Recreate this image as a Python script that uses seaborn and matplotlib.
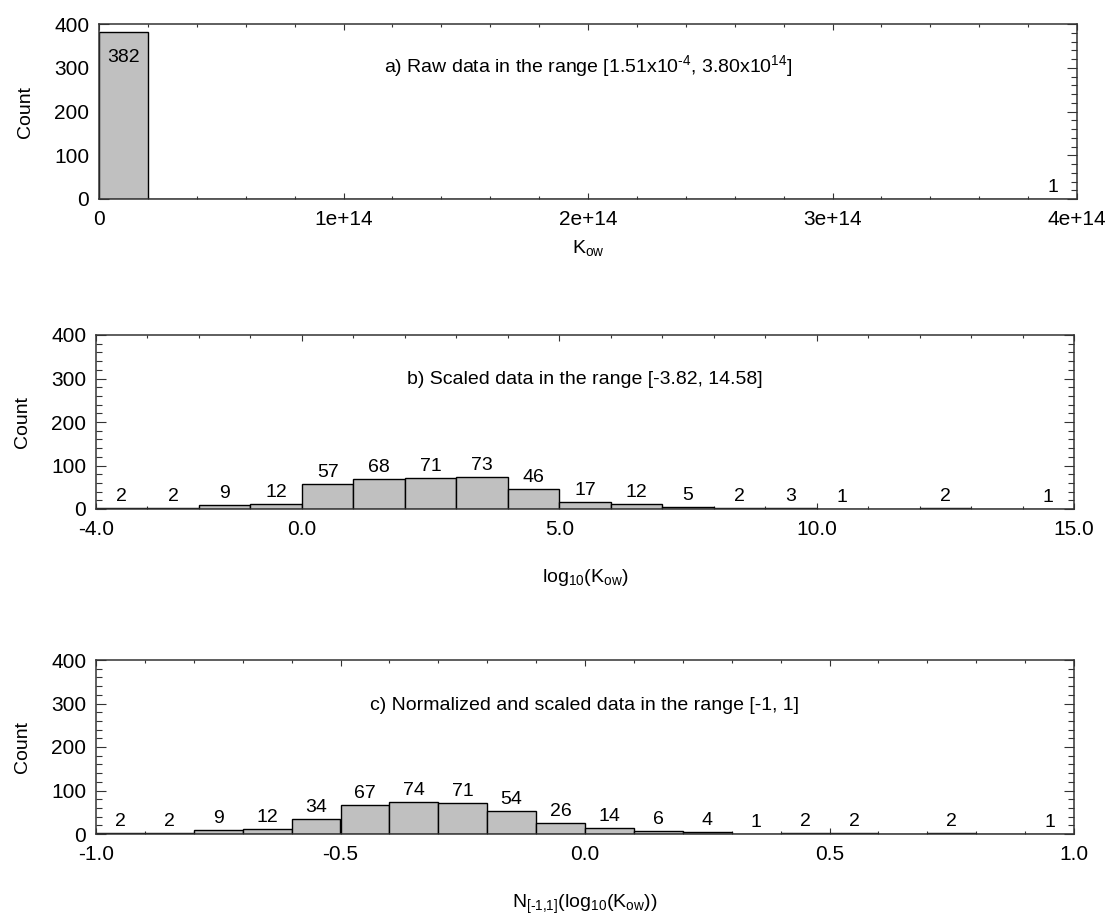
import numpy as np
import pandas as pd
import matplotlib
matplotlib.use("Agg")
import matplotlib.pyplot as plt
import seaborn as sns
from matplotlib.ticker import FixedLocator, FixedFormatter, MultipleLocator

# ---- histogram data (non-empty bins only: left edge of bin and its count) ----
raw_bin_left = [0.0, 3.8e14]
raw_counts = [382, 1]
raw_bin_width = 2e13

log_bin_left = [-4, -3, -2, -1, 0, 1, 2, 3, 4, 5, 6, 7, 8, 9, 10, 12, 14]
log_counts = [2, 2, 9, 12, 57, 68, 71, 73, 46, 17, 12, 5, 2, 3, 1, 2, 1]
log_bin_width = 1.0

norm_bin_left = [-1.0, -0.9, -0.8, -0.7, -0.6, -0.5, -0.4, -0.3, -0.2, -0.1,
                 0.0, 0.1, 0.2, 0.3, 0.4, 0.5, 0.7, 0.9]
norm_counts = [2, 2, 9, 12, 34, 67, 74, 71, 54, 26, 14, 6, 4, 1, 2, 2, 2, 1]
norm_bin_width = 0.1

# ---- axis ticks and labels ----
raw_xticks = [0, 1e14, 2e14, 3e14, 4e14]
raw_xticklabels = ["0", "1e+14", "2e+14", "3e+14", "4e+14"]
log_xticks = [-4, 0, 5, 10, 15]
log_xticklabels = ["-4.0", "0.0", "5.0", "10.0", "15.0"]
norm_xticks = [-1.0, -0.5, 0.0, 0.5, 1.0]
norm_xticklabels = ["-1.0", "-0.5", "0.0", "0.5", "1.0"]
count_ticks = [0, 100, 200, 300, 400]

titles = [
    r"a) Raw data in the range [1.51x10$^{\text{-4}}$, 3.80x10$^{\text{14}}$]",
    "b) Scaled data in the range [-3.82, 14.58]",
    "c) Normalized and scaled data in the range [-1, 1]",
]
xlabels = [
    r"K$_{\text{ow}}$",
    r"log$_{\text{10}}$(K$_{\text{ow}}$)",
    r"N$_{\text{[-1,1]}}$(log$_{\text{10}}$(K$_{\text{ow}}$))",
]

sns.set_theme(style="ticks")
plt.rcParams["font.family"] = ["Liberation Sans", "DejaVu Sans"]
plt.rcParams["mathtext.fontset"] = "custom"
plt.rcParams["mathtext.rm"] = "Liberation Sans"
plt.rcParams["mathtext.it"] = "Liberation Sans:italic"
plt.rcParams["mathtext.bf"] = "Liberation Sans:bold"
plt.rcParams["axes.unicode_minus"] = False

FS_TICK = 15
FS_BAR = 14
FS_TITLE = 14
FS_AXLAB = 14
EDGE = "#333333"

fig = plt.figure(figsize=(11.09, 9.16), dpi=100)
W, H = 1109, 916


def rect(left, right, top, bottom):
    return [left / W, 1 - bottom / H, (right - left) / W, (bottom - top) / H]


panels = [
    dict(rect=rect(99, 1077, 24, 199), left=raw_bin_left, counts=raw_counts,
         width=raw_bin_width, lo=0.0, hi=4e14, nb=20,
         ticks=raw_xticks, ticklabels=raw_xticklabels, minor=2e13,
         title_y=0.727, xlab_y=-0.225),
    dict(rect=rect(96, 1074, 335, 509), left=log_bin_left, counts=log_counts,
         width=log_bin_width, lo=-4.0, hi=15.0, nb=19,
         ticks=log_xticks, ticklabels=log_xticklabels, minor=1.0,
         title_y=0.72, xlab_y=-0.335),
    dict(rect=rect(96, 1074, 660, 834), left=norm_bin_left, counts=norm_counts,
         width=norm_bin_width, lo=-1.0, hi=1.0, nb=20,
         ticks=norm_xticks, ticklabels=norm_xticklabels, minor=0.1,
         title_y=0.71, xlab_y=-0.34),
]

for p, title, xlabel in zip(panels, titles, xlabels):
    ax = fig.add_axes(p["rect"])
    centers = np.asarray(p["left"], dtype=float) + p["width"] / 2
    df = pd.DataFrame({"value": centers, "count": p["counts"]})
    edges = np.linspace(p["lo"], p["hi"], p["nb"] + 1).tolist()
    sns.histplot(data=df, x="value", weights="count", bins=edges, stat="count",
                 color="#c0c0c0", edgecolor="black", linewidth=1.0, alpha=1.0,
                 ax=ax)

    ax.set_xlim(p["lo"], p["hi"])
    ax.set_ylim(0, 400)

    # count labels on each non-empty bar
    for c, n in zip(centers, p["counts"]):
        if n > 0.9 * 400:
            ax.annotate(str(n), (c, n), xytext=(0, -22), textcoords="offset points",
                        ha="center", va="baseline", fontsize=FS_BAR, color="black")
        else:
            ax.annotate(str(n), (c, n), xytext=(0, 5), textcoords="offset points",
                        ha="center", va="baseline", fontsize=FS_BAR, color="black")

    ax.text(0.5, p["title_y"], title, transform=ax.transAxes, ha="center",
            va="baseline", fontsize=FS_TITLE, color="black")

    ax.xaxis.set_major_locator(FixedLocator(p["ticks"]))
    ax.xaxis.set_major_formatter(FixedFormatter(p["ticklabels"]))
    ax.xaxis.set_minor_locator(MultipleLocator(p["minor"]))
    ax.yaxis.set_major_locator(FixedLocator(count_ticks))
    ax.yaxis.set_minor_locator(MultipleLocator(20))

    ax.tick_params(axis="both", which="both", direction="in", top=True, right=True,
                   colors=EDGE, labelcolor="black", labelsize=FS_TICK, width=0.8)
    ax.tick_params(axis="x", which="major", length=4.2, pad=8)
    ax.tick_params(axis="x", which="minor", length=2.5)
    ax.tick_params(axis="y", which="major", length=7.2, pad=7)
    ax.tick_params(axis="y", which="minor", length=4.6)

    for s in ax.spines.values():
        s.set_color(EDGE)
        s.set_linewidth(1.1)

    ax.set_ylabel("Count", fontsize=FS_AXLAB, color="black")
    ax.yaxis.set_label_coords(-0.066, 0.5)
    ax.set_xlabel(xlabel, fontsize=FS_AXLAB, color="black")
    ax.xaxis.set_label_coords(0.5, p["xlab_y"])

fig.savefig("out.png", dpi=100, facecolor="white")
